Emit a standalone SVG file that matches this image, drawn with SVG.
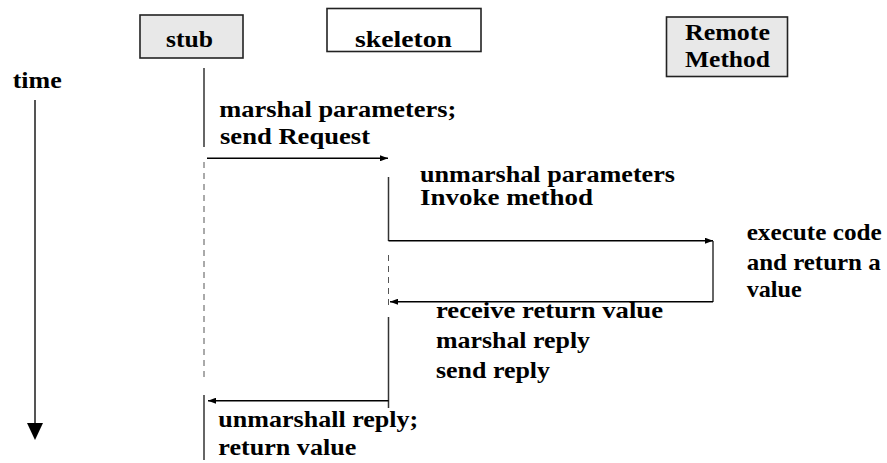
<svg xmlns="http://www.w3.org/2000/svg" width="887" height="463" viewBox="0 0 887 463">
<style>
text{font-family:"Liberation Serif","Times New Roman",Times,"DejaVu Serif",serif;font-weight:700;font-size:23px;fill:#000}
.box{stroke:#222;stroke-width:1.6}
.life{stroke:#333;stroke-width:1.5;fill:none}
.dash{stroke:#555;stroke-width:1;stroke-dasharray:6 5;fill:none}
.msg{stroke:#000;stroke-width:1.6;fill:none;marker-end:url(#ah)}
</style>
<defs>
<marker id="ah" viewBox="0 0 8 6" refX="8" refY="3" markerWidth="8" markerHeight="6" markerUnits="userSpaceOnUse" orient="auto">
<path d="M0,0 L8,3 L0,6 z" fill="#000"/>
</marker>
</defs>
<rect width="887" height="463" fill="#fff"/>
<g id="stub">
<rect class="box" x="140" y="15" width="103" height="43" fill="#e8e8e8"/>
<text x="166" y="46.7" textLength="47" lengthAdjust="spacingAndGlyphs">stub</text>
</g>
<g id="skeleton">
<rect class="box" x="327" y="8.5" width="154" height="43" fill="#fff"/>
<text x="355" y="46.7" textLength="97" lengthAdjust="spacingAndGlyphs">skeleton</text>
</g>
<g id="remote">
<rect class="box" x="666.5" y="17" width="121" height="59.5" fill="#e8e8e8"/>
<text x="685" y="40" textLength="85" lengthAdjust="spacingAndGlyphs">Remote</text>
<text x="685" y="66.7" textLength="85" lengthAdjust="spacingAndGlyphs">Method</text>
</g>
<g id="time">
<text x="12.7" y="88.3" textLength="49" lengthAdjust="spacingAndGlyphs">time</text>
<line x1="35" y1="100" x2="35" y2="425" stroke="#555" stroke-width="2"/>
<polygon points="27,423 43,423 35,440" fill="#000"/>
</g>
<g id="lifelines">
<line class="life" x1="204" y1="68" x2="204" y2="147"/>
<line class="dash" x1="204" y1="162" x2="204" y2="380"/>
<line class="life" x1="204" y1="395" x2="204" y2="460"/>
<line class="life" x1="388.5" y1="177" x2="388.5" y2="241"/>
<line class="dash" x1="388.5" y1="255" x2="388.5" y2="305"/>
<line class="life" x1="388.5" y1="317" x2="388.5" y2="408"/>
<line class="life" x1="713" y1="241" x2="713" y2="302"/>
</g>
<g id="connectors">
<line class="msg" x1="207" y1="158.3" x2="388" y2="158.3"/>
<line class="msg" x1="388.5" y1="240.7" x2="713" y2="240.7"/>
<line class="msg" x1="713" y1="301.7" x2="390" y2="301.7"/>
<line class="msg" x1="388.5" y1="400.7" x2="208" y2="400.7"/>
</g>
<g id="labels">
<text x="219.3" y="116.7" textLength="237" lengthAdjust="spacingAndGlyphs">marshal parameters;</text>
<text x="220" y="143.5" textLength="150" lengthAdjust="spacingAndGlyphs">send Request</text>
<text x="420" y="181.5" textLength="255" lengthAdjust="spacingAndGlyphs">unmarshal parameters</text>
<text x="420" y="205" textLength="173" lengthAdjust="spacingAndGlyphs">Invoke method</text>
<text x="746.7" y="240" textLength="135" lengthAdjust="spacingAndGlyphs">execute code</text>
<text x="746.7" y="270" textLength="134" lengthAdjust="spacingAndGlyphs">and return a</text>
<text x="746.7" y="296.7" textLength="55" lengthAdjust="spacingAndGlyphs">value</text>
<text x="436" y="318.3" textLength="227" lengthAdjust="spacingAndGlyphs">receive return value</text>
<text x="436" y="348.3" textLength="154" lengthAdjust="spacingAndGlyphs">marshal reply</text>
<text x="436" y="378.3" textLength="114" lengthAdjust="spacingAndGlyphs">send reply</text>
<text x="218.3" y="426.7" textLength="200" lengthAdjust="spacingAndGlyphs">unmarshall reply;</text>
<text x="218.3" y="455" textLength="138" lengthAdjust="spacingAndGlyphs">return value</text>
</g>
</svg>
